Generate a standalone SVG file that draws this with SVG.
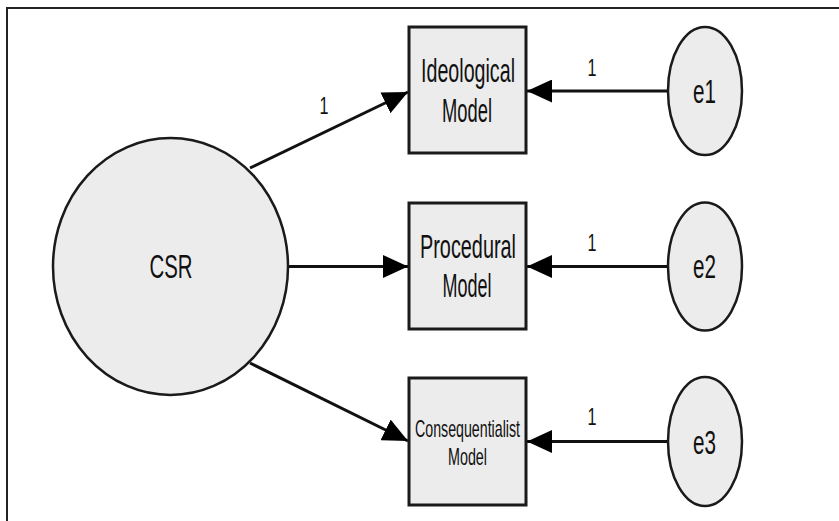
<svg xmlns="http://www.w3.org/2000/svg" width="839" height="521" viewBox="0 0 839 521">
<defs>
<style>
.node{fill:#ececec;stroke:#1a1a1a;stroke-width:2.5}
.box{fill:#ececec;stroke:#1a1a1a;stroke-width:3}
.t{font-family:"Liberation Sans",Arial,sans-serif;fill:#111;text-anchor:middle}
.big{font-size:33px}
.small{font-size:24px}
.lab{font-size:23px}
.edge{stroke:#111;stroke-width:3;fill:none;marker-end:url(#ah)}
</style>
<marker id="ah" markerUnits="userSpaceOnUse" viewBox="0 0 25 23" refX="25" refY="11.5" markerWidth="25" markerHeight="23" orient="auto">
<path d="M0,0 L25,11.5 L0,23 z" fill="#000"/>
</marker>
</defs>
<rect width="839" height="521" fill="#fff"/>
<path d="M7,521 V8 H839" fill="none" stroke="#222" stroke-width="2"/>
<g id="connectors">
<line class="edge" x1="250" y1="168" x2="408" y2="92"/>
<line class="edge" x1="288" y1="266.5" x2="408" y2="266.5"/>
<line class="edge" x1="250" y1="363" x2="408" y2="441"/>
<line class="edge" x1="668" y1="91" x2="527" y2="91"/>
<line class="edge" x1="668" y1="266.5" x2="527" y2="266.5"/>
<line class="edge" x1="668" y1="441.5" x2="527" y2="441.5"/>
<text class="t lab" x="324" y="114" textLength="9" lengthAdjust="spacingAndGlyphs">1</text>
<text class="t lab" x="592" y="76" textLength="9" lengthAdjust="spacingAndGlyphs">1</text>
<text class="t lab" x="592" y="251" textLength="9" lengthAdjust="spacingAndGlyphs">1</text>
<text class="t lab" x="592" y="425" textLength="9" lengthAdjust="spacingAndGlyphs">1</text>
</g>
<g id="CSR">
<ellipse class="node" cx="170.5" cy="266.5" rx="117.5" ry="128.5"/>
<text class="t big" x="171" y="278" textLength="43" lengthAdjust="spacingAndGlyphs">CSR</text>
</g>
<g id="ideological">
<rect class="box" x="409" y="27" width="117" height="126"/>
<text class="t big" x="468" y="82" textLength="94" lengthAdjust="spacingAndGlyphs">Ideological</text>
<text class="t big" x="467" y="122" textLength="50" lengthAdjust="spacingAndGlyphs">Model</text>
</g>
<g id="procedural">
<rect class="box" x="409" y="203" width="117" height="126"/>
<text class="t big" x="468" y="258" textLength="96" lengthAdjust="spacingAndGlyphs">Procedural</text>
<text class="t big" x="467" y="297" textLength="49" lengthAdjust="spacingAndGlyphs">Model</text>
</g>
<g id="consequentialist">
<rect class="box" x="409" y="378" width="117" height="127"/>
<text class="t small" x="467.5" y="437" textLength="105" lengthAdjust="spacingAndGlyphs">Consequentialist</text>
<text class="t small" x="467.5" y="465" textLength="39" lengthAdjust="spacingAndGlyphs">Model</text>
</g>
<g id="e1">
<ellipse class="node" cx="705" cy="91" rx="37" ry="64"/>
<text class="t big" x="704.5" y="103" textLength="23" lengthAdjust="spacingAndGlyphs">e1</text>
</g>
<g id="e2">
<ellipse class="node" cx="705" cy="266.5" rx="37" ry="64"/>
<text class="t big" x="704.5" y="278" textLength="23" lengthAdjust="spacingAndGlyphs">e2</text>
</g>
<g id="e3">
<ellipse class="node" cx="705" cy="441.5" rx="37" ry="64.5"/>
<text class="t big" x="704.5" y="454" textLength="23" lengthAdjust="spacingAndGlyphs">e3</text>
</g>
</svg>
